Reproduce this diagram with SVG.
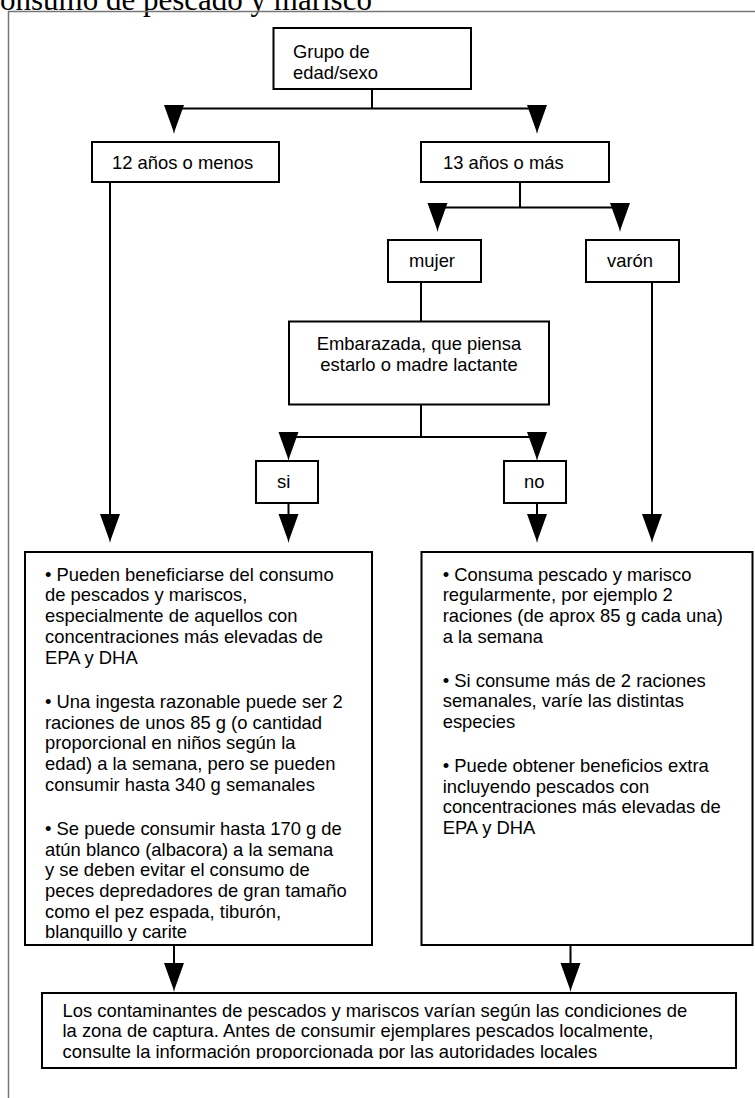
<svg xmlns="http://www.w3.org/2000/svg" xmlns:xlink="http://www.w3.org/1999/xlink" width="755" height="1098" viewBox="0 0 755 1098">
<style>
.box{fill:#fff;stroke:#000;stroke-width:2}
.t{font-family:"Liberation Sans",Arial,sans-serif;font-size:18.4px;fill:#000}
.c{stroke:#000;stroke-width:2;fill:none}
.frame{stroke:#777;stroke-width:1.5;fill:none}
.title{font-family:"Liberation Serif","Times New Roman",serif;font-size:31px;fill:#000}
</style>
<defs>
<path id="ah" d="M-10,0 L10,0 L1,25 L0,29 L-1,25 Z" fill="#000"/>
<clipPath id="clipL"><rect x="26" y="553" width="345" height="388"/></clipPath>
<clipPath id="clipB"><rect x="43" y="994" width="692" height="65"/></clipPath>
</defs>
<rect width="755" height="1098" fill="#fff"/>
<g id="title"><text class="title" x="-20.7" y="9.5">Consumo de pescado y marisco</text></g>
<path class="frame" d="M8.5,1098 L8.5,11.5 L756,11.5"/>
<g id="connectors">
<path class="c" d="M372,89 V108.5 M174,108.5 H537"/>
<use xlink:href="#ah" x="174" y="105"/>
<use xlink:href="#ah" x="537" y="105"/>
<path class="c" d="M520,182 V207.5 M437.5,207.5 H620"/>
<use xlink:href="#ah" x="437.5" y="203"/>
<use xlink:href="#ah" x="620" y="203"/>
<path class="c" d="M421,282 V321.5"/>
<path class="c" d="M421,404.5 V437 M288.5,437 H537"/>
<use xlink:href="#ah" x="288.5" y="432"/>
<use xlink:href="#ah" x="537" y="432"/>
<path class="c" d="M288.5,503 V515 M537,503 V515 M110,182 V515 M652,282 V515"/>
<use xlink:href="#ah" x="110" y="514"/>
<use xlink:href="#ah" x="288.5" y="514"/>
<use xlink:href="#ah" x="537" y="514"/>
<use xlink:href="#ah" x="652" y="514"/>
<path class="c" d="M174,945 V964 M570.5,945 V964"/>
<use xlink:href="#ah" x="174" y="963"/>
<use xlink:href="#ah" x="570.5" y="963"/>
</g>
<g id="grupo">
<rect class="box" x="273.5" y="28" width="197.5" height="61"/>
<text class="t" x="293" y="58">Grupo de</text>
<text class="t" x="293" y="79">edad/sexo</text>
</g>
<g id="menos12">
<rect class="box" x="92" y="142" width="187" height="40"/>
<text class="t" x="112" y="169">12 años o menos</text>
</g>
<g id="mas13">
<rect class="box" x="421" y="142" width="188" height="40"/>
<text class="t" x="443" y="169">13 años o más</text>
</g>
<g id="mujer">
<rect class="box" x="388" y="240" width="93" height="42"/>
<text class="t" x="409" y="267">mujer</text>
</g>
<g id="varon">
<rect class="box" x="586" y="240" width="93" height="42"/>
<text class="t" x="607" y="267">varón</text>
</g>
<g id="embarazada">
<rect class="box" x="289" y="321.5" width="260" height="83"/>
<text class="t" x="419" y="350" text-anchor="middle">Embarazada, que piensa</text>
<text class="t" x="419" y="371" text-anchor="middle">estarlo o madre lactante</text>
</g>
<g id="si">
<rect class="box" x="256" y="461" width="62" height="42"/>
<text class="t" x="277" y="488">si</text>
</g>
<g id="no">
<rect class="box" x="504" y="461" width="62" height="42"/>
<text class="t" x="524" y="488">no</text>
</g>
<g id="consejoSi">
<rect class="box" x="25" y="552" width="347" height="393"/>
<g clip-path="url(#clipL)">
<text class="t" x="45" y="580.7">• Pueden beneficiarse del consumo</text>
<text class="t" x="45" y="601.4">de pescados y mariscos,</text>
<text class="t" x="45" y="622.1">especialmente de aquellos con</text>
<text class="t" x="45" y="642.8">concentraciones más elevadas de</text>
<text class="t" x="45" y="663.5">EPA y DHA</text>
<text class="t" x="45" y="707.8">• Una ingesta razonable puede ser 2</text>
<text class="t" x="45" y="728.5">raciones de unos 85 g (o cantidad</text>
<text class="t" x="45" y="749.2">proporcional en niños según la</text>
<text class="t" x="45" y="769.9">edad) a la semana, pero se pueden</text>
<text class="t" x="45" y="790.6">consumir hasta 340 g semanales</text>
<text class="t" x="45" y="834.9">• Se puede consumir hasta 170 g de</text>
<text class="t" x="45" y="855.6">atún blanco (albacora) a la semana</text>
<text class="t" x="45" y="876.3">y se deben evitar el consumo de</text>
<text class="t" x="45" y="897">peces depredadores de gran tamaño</text>
<text class="t" x="45" y="917.7">como el pez espada, tiburón,</text>
<text class="t" x="45" y="938.4">blanquillo y carite</text>
</g>
</g>
<g id="consejoNo">
<rect class="box" x="421.5" y="552" width="331" height="393"/>
<text class="t" x="442.7" y="580.7">• Consuma pescado y marisco</text>
<text class="t" x="442.7" y="601.4">regularmente, por ejemplo 2</text>
<text class="t" x="442.7" y="622.1">raciones (de aprox 85 g cada una)</text>
<text class="t" x="442.7" y="642.8">a la semana</text>
<text class="t" x="442.7" y="686.5">• Si consume más de 2 raciones</text>
<text class="t" x="442.7" y="707.2">semanales, varíe las distintas</text>
<text class="t" x="442.7" y="727.9">especies</text>
<text class="t" x="442.7" y="772">• Puede obtener beneficios extra</text>
<text class="t" x="442.7" y="792.7">incluyendo pescados con</text>
<text class="t" x="442.7" y="813.4">concentraciones más elevadas de</text>
<text class="t" x="442.7" y="834.1">EPA y DHA</text>
</g>
<g id="contaminantes">
<rect class="box" x="42" y="993" width="694" height="75"/>
<g clip-path="url(#clipB)">
<text class="t" x="62.5" y="1016.5">Los contaminantes de pescados y mariscos varían según las condiciones de</text>
<text class="t" x="62.5" y="1037.2">la zona de captura. Antes de consumir ejemplares pescados localmente,</text>
<text class="t" x="62.5" y="1057.9">consulte la información proporcionada por las autoridades locales</text>
</g>
</g>
</svg>
